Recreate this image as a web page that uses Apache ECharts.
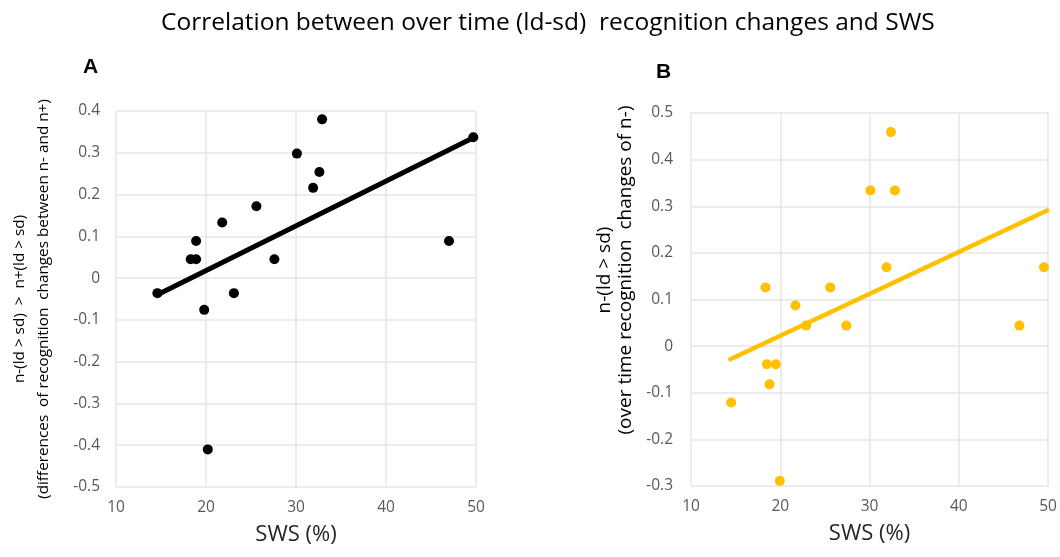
<!DOCTYPE html>
<html>
    <head>
        <meta charset="utf-8">
        <title>ECharts</title>
        <script src="https://cdn.jsdelivr.net/npm/echarts@6/dist/echarts.min.js"></script>
    </head>
    <body style="margin:0;background:#fff;">
        <div id="main" style="width:1060px;height:557px;"></div>
        <script type="text/javascript">
            // panel A: SWS (%) vs n-(ld>sd) > n+(ld>sd)
            var swsA = [32.9, 30.1, 32.6, 31.9, 25.6, 21.8, 18.9, 47.0, 18.3, 18.9, 27.6, 14.6, 23.1, 19.8, 20.2, 49.7];
            var diffA = [0.38, 0.298, 0.254, 0.216, 0.172, 0.133, 0.089, 0.089, 0.045, 0.045, 0.045, -0.036, -0.036, -0.076, -0.41, 0.337];
            var trendA = [[14.6, -0.04], [49.7, 0.336]];

            // panel B: SWS (%) vs n-(ld>sd)
            var swsB = [32.4, 30.1, 32.85, 31.9, 49.55, 18.35, 25.6, 21.7, 22.9, 27.4, 46.8, 18.5, 19.5, 18.8, 14.5, 19.95];
            var changeB = [0.459, 0.334, 0.334, 0.169, 0.169, 0.126, 0.126, 0.087, 0.044, 0.044, 0.044, -0.039, -0.039, -0.082, -0.121, -0.289];
            var trendB = [[14.4, -0.028], [49.9, 0.291]];

            function pairs(xs, ys) {
                var out = [];
                for (var i = 0; i < xs.length; i++) out.push([xs[i], ys[i]]);
                return out;
            }

            var fontName = 'Open Sans';
            var tickStyle = {color: '#595959', fontSize: 15.5, fontFamily: fontName};
            var gridLine = {show: true, lineStyle: {color: '#e6e6e6', width: 1.5}};

            function xAx(idx) {
                return {
                    gridIndex: idx, type: 'value', min: 10, max: 50, interval: 10,
                    name: 'SWS (%)', nameLocation: 'middle', nameGap: 37,
                    nameTextStyle: {color: '#262626', fontSize: 22, fontFamily: fontName},
                    axisLine: {show: false}, axisTick: {show: false},
                    axisLabel: Object.assign({margin: 13}, tickStyle),
                    splitLine: gridLine
                };
            }

            // rotated title of panel B's y axis (two lines)
            function vText(x, y, txt) {
                return {
                    type: 'text', x: x, y: y, rotation: Math.PI / 2,
                    style: {text: txt, fill: '#000', fontSize: 19, fontFamily: fontName,
                            align: 'center', verticalAlign: 'middle'}
                };
            }

            var myChart = echarts.init(document.getElementById('main'));
            myChart.setOption({
                animation: false,
                title: [
                    {text: 'Correlation between over time (ld-sd)  recognition changes and SWS',
                     left: 156, top: 6,
                     textStyle: {fontSize: 24.5, fontWeight: 'normal', color: '#000', fontFamily: fontName}},
                    {text: 'A', left: 78, top: 52, textStyle: {fontSize: 21, fontWeight: 'bold', color: '#000', fontFamily: 'Liberation Sans'}},
                    {text: 'B', left: 651, top: 57, textStyle: {fontSize: 21, fontWeight: 'bold', color: '#000', fontFamily: 'Liberation Sans'}}
                ],
                graphic: [
                    vText(605, 270, 'n-(ld > sd)'),
                    vText(626, 270, '(over time recognition  changes of n-)')
                ],
                grid: [
                    {left: 116, right: 584, top: 111, bottom: 70},
                    {left: 691, right: 12, top: 113, bottom: 71}
                ],
                xAxis: [xAx(0), xAx(1)],
                yAxis: [
                    {
                        gridIndex: 0, type: 'value', min: -0.5, max: 0.4, interval: 0.1,
                        name: 'n-(ld > sd)  >  n+(ld > sd)\n(differences  of recognition  changes between n- and n+)',
                        nameLocation: 'middle', nameGap: 60, nameRotate: 90,
                        nameTextStyle: {color: '#000', fontSize: 15.3, lineHeight: 24, fontFamily: fontName},
                        axisLine: {show: false}, axisTick: {show: false},
                        axisLabel: Object.assign({margin: 16}, tickStyle),
                        splitLine: gridLine
                    },
                    {
                        gridIndex: 1, type: 'value', min: -0.3, max: 0.5, interval: 0.1,
                        axisLine: {show: false}, axisTick: {show: false},
                        axisLabel: Object.assign({margin: 18}, tickStyle),
                        splitLine: gridLine
                    }
                ],
                series: [
                    {type: 'line', xAxisIndex: 0, yAxisIndex: 0, data: trendA, symbol: 'none',
                     lineStyle: {color: '#000', width: 5, cap: 'round'}},
                    {type: 'scatter', xAxisIndex: 0, yAxisIndex: 0, data: pairs(swsA, diffA),
                     symbolSize: 10, itemStyle: {color: '#000', opacity: 1}},
                    {type: 'line', xAxisIndex: 1, yAxisIndex: 1, data: trendB, symbol: 'none',
                     lineStyle: {color: '#FFC000', width: 4.5, cap: 'round'}},
                    {type: 'scatter', xAxisIndex: 1, yAxisIndex: 1, data: pairs(swsB, changeB),
                     symbolSize: 10, itemStyle: {color: '#FFC000', opacity: 1}}
                ]
            });
        </script>
    </body>
</html>
